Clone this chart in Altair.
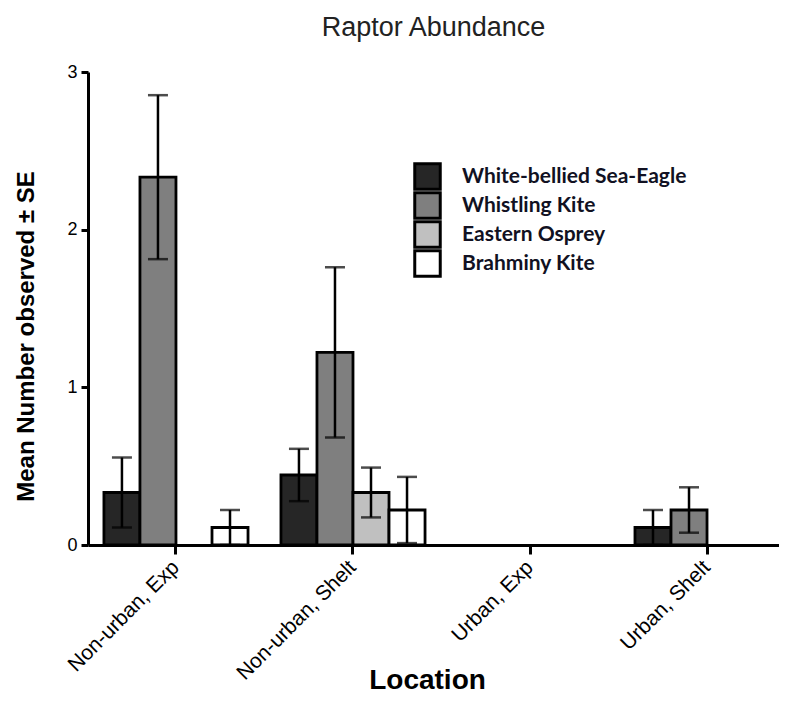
import altair as alt
import pandas as pd

locations = ["Non-urban, Exp", "Non-urban, Shelt", "Urban, Exp", "Urban, Shelt"]
species = ["White-bellied Sea-Eagle", "Whistling Kite", "Eastern Osprey", "Brahminy Kite"]
colors = ["#262626", "#7f7f7f", "#c0c0c0", "#ffffff"]

mean_wbse = [0.333, 0.444, 0.0, 0.111]
mean_wk = [2.333, 1.222, 0.0, 0.222]
mean_eo = [0.0, 0.333, 0.0, 0.0]
mean_bk = [0.111, 0.222, 0.0, 0.0]

se_wbse = [0.222, 0.166, 0.0, 0.111]
se_wk = [0.52, 0.54, 0.0, 0.144]
se_eo = [0.0, 0.158, 0.0, 0.0]
se_bk = [0.111, 0.21, 0.0, 0.0]

means = [mean_wbse, mean_wk, mean_eo, mean_bk]
ses = [se_wbse, se_wk, se_eo, se_bk]

rows = []
for s, m_list, e_list in zip(species, means, ses):
    for loc, m, e in zip(locations, m_list, e_list):
        rows.append({"location": loc, "species": s, "mean": m,
                     "lo": max(m - e, 0), "hi": m + e})
df = pd.DataFrame(rows)

YTITLE = "Mean Number observed \u00b1 SE"

x_enc = alt.X(
    "location:N", sort=locations,
    scale=alt.Scale(domain=locations, range=[0, 707],
                    paddingInner=0.186, paddingOuter=0.09),
    axis=alt.Axis(title="Location", labelAngle=-45, labelAlign="right",
                  labelBaseline="middle", labelFontSize=21, labelPadding=10,
                  tickSize=9, titleFontSize=28, titleFontWeight="bold",
                  titleX=339, titleY=143, titleBaseline="alphabetic",
                  titleAlign="center"),
)
xoff_enc = alt.XOffset("species:N", sort=species,
                       scale=alt.Scale(domain=species, paddingInner=0, paddingOuter=0))
y_axis = alt.Axis(title=YTITLE, values=[0, 1, 2, 3], labelFontSize=18,
                  tickSize=7, labelPadding=4, titleFontSize=24,
                  titleFontWeight="bold", titleX=-62, titleY=264,
                  titleAngle=-90, titleBaseline="middle", titleAlign="center")
y_scale = alt.Scale(domain=[0, 3], nice=False)

base = alt.Chart(df).transform_filter("datum.mean > 0")

bars = base.mark_bar(stroke="black", strokeWidth=2.8).encode(
    x=x_enc,
    xOffset=xoff_enc,
    y=alt.Y("mean:Q", scale=y_scale, axis=y_axis),
    fill=alt.Fill(
        "species:N",
        scale=alt.Scale(domain=species, range=colors),
        legend=alt.Legend(
            orient="none", legendX=325, legendY=90, title=None,
            symbolType="square", symbolSize=650, symbolStrokeWidth=3,
            symbolStrokeColor="black", symbolOpacity=1,
            labelFont="Lato", labelFontWeight="bold", labelFontSize=21,
            labelColor="#111122", labelOffset=20, labelLimit=0,
            clipHeight=29, rowPadding=0, padding=0,
        ),
    ),
)

rules = base.mark_rule(color="black", strokeWidth=2.5).encode(
    x=x_enc,
    xOffset=xoff_enc,
    y=alt.Y("lo:Q", scale=y_scale, axis=y_axis),
    y2="hi:Q",
)

caps = base.transform_fold(["lo", "hi"], as_=["which", "val"]).mark_tick(
    color="black", thickness=2.5, size=20
).encode(
    x=x_enc,
    xOffset=xoff_enc,
    y=alt.Y("val:Q", scale=y_scale, axis=y_axis),
)

chart = alt.layer(bars, rules, caps).properties(
    width=691,
    height=473,
    autosize="none",
    padding={"left": 80, "top": 64, "right": 0, "bottom": 150},
    title=alt.TitleParams("Raptor Abundance", fontSize=27, fontWeight="normal",
                          font="Liberation Sans", color="#222222", offset=21),
).configure(
    font="Liberation Sans",
).configure_view(
    stroke=None,
).configure_axis(
    grid=False,
    domainColor="black",
    domainWidth=3,
    tickColor="black",
    tickWidth=3,
    labelColor="black",
    titleColor="black",
    labelFont="Liberation Sans",
    titleFont="Liberation Sans",
)

chart.save("out.html", embed_options={"renderer": "svg", "actions": False})
